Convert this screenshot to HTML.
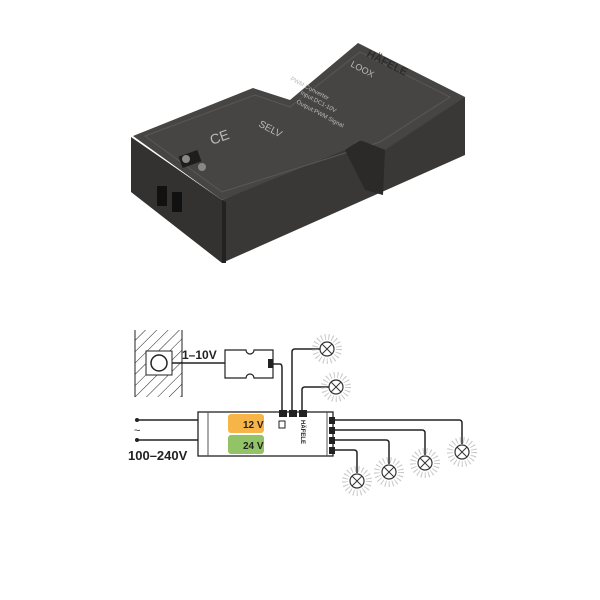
<!DOCTYPE html>
<html><head><meta charset="utf-8"><style>
html,body{margin:0;padding:0;background:#fff;}
svg{display:block}
</style></head><body>
<svg width="600" height="600" viewBox="0 0 600 600" xmlns="http://www.w3.org/2000/svg" font-family="Liberation Sans, sans-serif">
<defs>
<pattern id="h" width="8" height="8" patternUnits="userSpaceOnUse" patternTransform="rotate(45)">
<line x1="0" y1="0" x2="0" y2="8" stroke="#222" stroke-width="1"/>
</pattern>
</defs>
<!-- product photo -->
<polygon points="131,137 222,200 222,263 131,192" fill="#343230"/>
<polygon points="222,200 465,97 465,155 222,263" fill="#3a3836"/>
<polygon points="133,136 253,88 290,100 358,43 465,97 385,150 360,140 345,150 222,200" fill="#474543"/>
<polygon points="145,136 255,95 290,107 360,52 450,97 380,142 222,192" fill="none" stroke="#5a5856" stroke-width="1"/>
<polygon points="222,200 222,263 226,263 226,202" fill="#222"/>
<polygon points="345,150 360,140 385,150 383,195 365,190" fill="#2c2a28"/>
<rect x="157" y="186" width="10" height="20" fill="#111"/>
<rect x="172" y="192" width="10" height="20" fill="#111"/>
<rect x="180" y="153" width="20" height="12" fill="#1e1d1c" transform="rotate(-20 190 159)"/>
<circle cx="186" cy="159" r="4" fill="#888"/><circle cx="202" cy="167" r="4" fill="#888"/>
<g fill="#bbb" font-size="6">
<text x="290" y="80" transform="rotate(28 290 80)">PWM Converter</text>
<text x="300" y="94" transform="rotate(28 300 94)">Input:DC1-10V</text>
<text x="296" y="103" transform="rotate(28 296 103)">Output:PWM Signal</text>
<text x="258" y="126" font-size="10" transform="rotate(28 258 126)">SELV</text>
<text x="212" y="145" font-size="14" transform="rotate(-20 212 145)">CE</text>
<text x="350" y="66" font-size="9" transform="rotate(28 350 66)">LOOX</text>
</g>
<text x="366" y="56" font-size="11" font-weight="bold" fill="#2e2c2a" transform="rotate(27 366 56)">HÄFELE</text>
<!-- diagram -->
<rect x="135" y="330" width="47" height="67" fill="url(#h)"/>
<line x1="135" y1="330" x2="135" y2="397" stroke="#222"/>
<line x1="182" y1="330" x2="182" y2="397" stroke="#222"/>
<rect x="146" y="351" width="26" height="24" fill="#fff" stroke="#222"/>
<circle cx="159" cy="363" r="8" fill="#fff" stroke="#222" stroke-width="1.5"/>
<line x1="172" y1="363" x2="225" y2="363" stroke="#222" stroke-width="1.5"/>
<text x="182" y="359" font-size="12" font-weight="bold" fill="#222">1–10V</text>
<path d="M225,350 H246 a4,4 0 0 0 8,0 H273 V378 H254 a4,4 0 0 0 -8,0 H225 Z" fill="#fff" stroke="#222" stroke-width="1.2"/>
<rect x="268" y="359" width="5" height="9" fill="#222"/>
<g fill="none" stroke="#222" stroke-width="1.5">
<path d="M273,364 H280 Q282,364 282,368 V412"/>
<path d="M292,412 V352 Q292,349 295,349 H320"/>
<path d="M302,412 V390 Q302,387 305,387 H329"/>
<path d="M335,420 H459 Q462,420 462,423 V444"/>
<path d="M335,430 H422 Q425,430 425,433 V455"/>
<path d="M335,440 H386 Q389,440 389,443 V464"/>
<path d="M335,450 H354 Q357,450 357,453 V473"/>
<line x1="137" y1="420" x2="198" y2="420"/>
<line x1="137" y1="440" x2="198" y2="440"/>
</g>
<circle cx="137" cy="420" r="2" fill="#222"/><circle cx="137" cy="440" r="2" fill="#222"/>
<text x="134" y="434" font-size="11" fill="#222">~</text>
<text x="128" y="460" font-size="13" font-weight="bold" fill="#222">100–240V</text>
<rect x="198" y="412" width="135" height="44" fill="#fff" stroke="#222" stroke-width="1.3"/>
<line x1="208" y1="412" x2="208" y2="456" stroke="#555"/>
<line x1="327" y1="412" x2="327" y2="456" stroke="#555"/>
<rect x="228" y="414" width="36" height="19" rx="3" fill="#f7b548"/>
<rect x="228" y="435" width="36" height="19" rx="3" fill="#92c467"/>
<text x="243" y="428" font-size="10" font-weight="bold" fill="#222">12 V</text>
<text x="243" y="449" font-size="10" font-weight="bold" fill="#222">24 V</text>
<rect x="279" y="410" width="8" height="7" fill="#222"/>
<rect x="289" y="410" width="8" height="7" fill="#222"/>
<rect x="299" y="410" width="8" height="7" fill="#222"/>
<rect x="279" y="421" width="6" height="7" fill="#fff" stroke="#222"/>
<text x="301" y="420" font-size="6" font-weight="bold" fill="#222" transform="rotate(90 301 420)">HÄFELE</text>
<g fill="#222"><rect x="329" y="417" width="6" height="7"/><rect x="329" y="427" width="6" height="7"/><rect x="329" y="437" width="6" height="7"/><rect x="329" y="447" width="6" height="7"/></g>
<g fill="none" stroke="#c8c8c8" stroke-width="6" stroke-dasharray="1 2.6">
<circle cx="327" cy="349" r="12"/><circle cx="336" cy="387" r="12"/>
<circle cx="357" cy="481" r="12"/><circle cx="389" cy="472" r="12"/>
<circle cx="425" cy="463" r="12"/><circle cx="462" cy="452" r="12"/>
</g>
<g fill="#fff" stroke="#333" stroke-width="1.2">
<circle cx="327" cy="349" r="7"/><circle cx="336" cy="387" r="7"/>
<circle cx="357" cy="481" r="7"/><circle cx="389" cy="472" r="7"/>
<circle cx="425" cy="463" r="7"/><circle cx="462" cy="452" r="7"/>
</g>
<g stroke="#333" stroke-width="1">
<path d="M322,344 l10,10 M332,344 l-10,10 M331,382 l10,10 M341,382 l-10,10 M352,476 l10,10 M362,476 l-10,10 M384,467 l10,10 M394,467 l-10,10 M420,458 l10,10 M430,458 l-10,10 M457,447 l10,10 M467,447 l-10,10"/>
</g>
</svg>
</body></html>
